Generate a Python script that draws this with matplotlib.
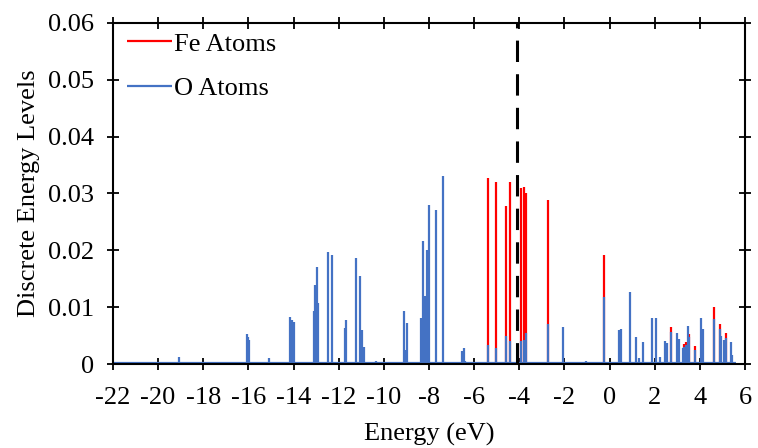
import numpy as np
import matplotlib
matplotlib.use("Agg")
import matplotlib.pyplot as plt
from matplotlib.ticker import FuncFormatter

# 能級データ (eV, 離散準位の重み)
o_energy = [-21.6, -19.09, -16.08, -16.03, -15.96, -15.11,
            -14.15, -14.08, -14.0,
            -13.1, -13.05, -12.98, -12.9, -12.46, -12.3,
            -11.73, -11.66, -11.24, -11.04, -10.98, -10.89, -10.37,
            -9.12, -9.05, -8.96, -8.37, -8.27, -8.2, -8.08, -8.0,
            -7.71, -7.4, -6.53, -6.46, -6.40,
            -5.40, -5.05, -4.59, -4.41, -3.93, -3.81, -3.69, -2.75, -2.07, -1.03,
            -0.25, 0.41, 0.49, 0.88, 1.18, 1.30, 1.49, 1.86, 2.04, 2.25,
            2.43, 2.52, 2.72, 2.99, 3.06, 3.25, 3.31, 3.39, 3.47, 3.53, 3.77,
            4.05, 4.13, 4.61, 4.87, 4.92, 5.05, 5.14, 5.37, 5.44]
o_level = [0.0004, 0.0013, 0.0052, 0.0047, 0.0043, 0.0010,
           0.0083, 0.0077, 0.0074,
           0.0093, 0.0139, 0.0170, 0.0107, 0.0197, 0.0192,
           0.0063, 0.0077, 0.0186, 0.0155, 0.0060, 0.0030, 0.0006,
           0.0093, 0.0025, 0.0072, 0.0081, 0.0217, 0.0120, 0.0200, 0.0280,
           0.0270, 0.0330, 0.0022, 0.0028, 0.0006,
           0.0034, 0.0028, 0.0049, 0.0040, 0.0040, 0.0043, 0.0055, 0.0071, 0.0065, 0.0005,
           0.0117, 0.0060, 0.0062, 0.0127, 0.0048, 0.0010, 0.0039, 0.0081, 0.0081, 0.0012,
           0.0041, 0.0037, 0.0056, 0.0055, 0.0044, 0.0028, 0.0030, 0.0033, 0.0066, 0.0048, 0.0025,
           0.0081, 0.0062, 0.0079, 0.0062, 0.0050, 0.0043, 0.0046, 0.0038, 0.0016]

# Fe は O の上に積み上げた合計値
fe_energy = [-5.40, -5.05, -4.59, -4.41, -3.93, -3.81, -3.69, -2.75,
             -0.25, 2.72, 3.31, 3.39, 3.53, 3.77, 4.61, 4.87, 5.14]
fe_level = [0.0327, 0.0320, 0.0278, 0.0320, 0.0310, 0.0312, 0.0300, 0.0288,
            0.0192, 0.0065, 0.0036, 0.0038, 0.0052, 0.0031, 0.0101, 0.0071, 0.0054]

fermi_level = -4.11

plt.rcParams['font.family'] = ['Liberation Serif', 'DejaVu Serif']
plt.rcParams['axes.unicode_minus'] = False

fig = plt.figure(figsize=(7.58, 4.48), dpi=100)
ax = fig.add_axes([0.149, 0.1875, 0.834, 0.7615])

blue = "#4472C4"
red = "#FF0000"
fs = 19

ax.vlines(fe_energy, 0, fe_level, color=red, lw=1.6, label="Fe Atoms")
ax.vlines(o_energy, 0, o_level, color=blue, lw=1.6, label="O Atoms")
ax.hlines(0.0002, -22, 5.6, color=blue, lw=1.6)
ax.axvline(fermi_level, color="black", lw=2.2, dashes=(7, 4))

ax.set_xlim(-22, 6)
ax.set_ylim(0, 0.06)
ax.set_xticks(np.arange(-22, 7, 2))
ax.set_yticks(np.arange(0, 0.061, 0.01))
ax.yaxis.set_major_formatter(FuncFormatter(lambda v, p: "0" if abs(v) < 1e-9 else f"{v:.2f}"))

ax.tick_params(direction="inout", length=9, width=1.3, labelsize=fs,
               top=True, right=True)
ax.tick_params(axis="x", pad=12)
ax.tick_params(axis="y", pad=9)
for s in ax.spines.values():
    s.set_linewidth(1.5)

ax.set_xlabel("Energy (eV)", fontsize=fs, labelpad=10)
ax.set_ylabel("Discrete Energy Levels", fontsize=fs, labelpad=6)

ax.legend(loc="upper left", frameon=False, fontsize=fs, handlelength=1.7,
          handletextpad=0.1, labelspacing=0.8, borderaxespad=0.0,
          borderpad=0.0, bbox_to_anchor=(0.022, 0.973))

fig.savefig("out.png", dpi=100)
